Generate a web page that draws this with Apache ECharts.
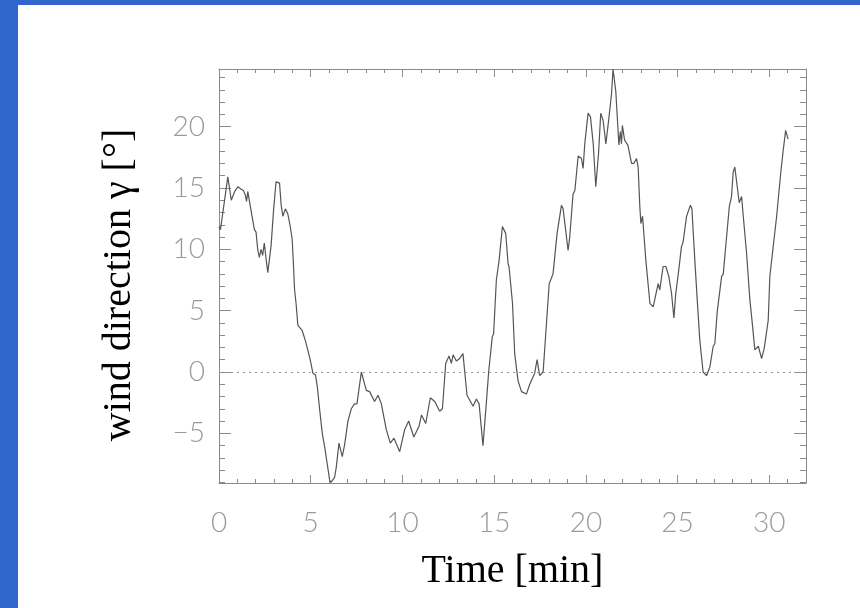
<!DOCTYPE html>
<html>
<head>
<meta charset="utf-8">
<title>wind direction</title>
<script src="https://cdn.jsdelivr.net/npm/echarts@6/dist/echarts.min.js"></script>
<style>
  html, body { margin: 0; padding: 0; }
  body { width: 860px; height: 608px; background: #3167cc; position: relative; overflow: hidden; }
  .paper { position: absolute; left: 18px; top: 5px; right: 0; bottom: 0; background: #fff; }
  #chart { position: absolute; left: 0; top: 0; width: 860px; height: 608px; }
</style>
</head>
<body>
<div class="paper"></div>
<div id="chart"></div>
<script>
// time in minutes, wind direction in degrees
const timeMin = [
  0.00, 0.08, 0.15, 0.35, 0.48, 0.67, 0.85, 1.03, 1.21, 1.33, 1.44, 1.50, 1.57, 1.66, 1.80, 1.93,
  2.02, 2.11, 2.20, 2.29, 2.38, 2.47, 2.56, 2.66, 2.84, 2.98, 3.11, 3.20, 3.30, 3.39, 3.48, 3.62,
  3.75, 3.88, 3.99, 4.06, 4.12, 4.20, 4.30, 4.53, 4.70, 4.84, 4.97, 5.12, 5.26, 5.36, 5.49, 5.63,
  5.76, 5.89, 6.03, 6.10, 6.17, 6.30, 6.39, 6.54, 6.72, 6.85, 7.03, 7.21, 7.39, 7.52, 7.76, 7.85,
  8.03, 8.21, 8.30, 8.48, 8.67, 8.85, 9.12, 9.34, 9.54, 9.85, 10.12, 10.34, 10.62, 10.91, 11.04, 11.27,
  11.52, 11.76, 12.03, 12.18, 12.36, 12.54, 12.67, 12.76, 12.94, 13.12, 13.30, 13.52, 13.67, 13.85, 14.03, 14.18,
  14.39, 14.57, 14.70, 14.90, 14.97, 15.12, 15.27, 15.45, 15.52, 15.63, 15.76, 15.81, 16.00, 16.12, 16.30, 16.49,
  16.76, 16.94, 17.03, 17.21, 17.34, 17.48, 17.67, 18.00, 18.21, 18.43, 18.67, 18.76, 19.03, 19.12, 19.30, 19.40,
  19.58, 19.76, 19.85, 19.94, 20.12, 20.25, 20.40, 20.54, 20.69, 20.81, 20.94, 21.09, 21.27, 21.40, 21.48, 21.63,
  21.70, 21.80, 21.88, 21.94, 21.99, 22.11, 22.29, 22.49, 22.61, 22.76, 22.85, 22.94, 23.00, 23.09, 23.27, 23.49,
  23.67, 23.76, 23.94, 24.03, 24.21, 24.36, 24.52, 24.67, 24.80, 24.90, 25.03, 25.12, 25.21, 25.30, 25.49, 25.70,
  25.78, 25.94, 26.07, 26.21, 26.39, 26.58, 26.76, 26.94, 27.03, 27.16, 27.40, 27.49, 27.67, 27.82, 27.94, 28.03,
  28.12, 28.21, 28.36, 28.49, 28.58, 28.76, 28.94, 29.09, 29.21, 29.40, 29.58, 29.72, 29.81, 29.94, 30.03, 30.21,
  30.40, 30.62, 30.76, 30.89, 30.98, 31.03
]
const windDir = [
  11.85, 11.6, 11.7, 14.5, 15.9, 14.0, 14.7, 15.1, 14.9, 14.8, 14.4, 13.9, 14.7, 14.7, 12.7, 11.6,
  11.4, 10.0, 9.35, 10.0, 9.5, 10.5, 9.3, 8.1, 10.3, 13.3, 15.5, 15.6, 15.4, 13.6, 12.7, 13.3,
  12.9, 11.9, 10.8, 8.7, 6.7, 5.6, 3.8, 3.4, 2.6, 1.8, 1.0, -0.1, -0.25, -1.2, -3.1, -5.0,
  -6.1, -7.4, -8.8, -9.0, -8.9, -8.6, -7.8, -5.8, -6.9, -5.9, -4.0, -3.0, -2.6, -2.6, 0.0, -0.1,
  -1.5, -1.6, -1.5, -2.4, -1.9, -2.6, -4.7, -5.8, -5.4, -6.5, -4.7, -4.0, -5.3, -4.4, -3.5, -4.2,
  -2.1, -2.4, -3.2, -3.0, 0.7, 1.3, 0.7, 1.4, 0.9, 1.1, 1.5, -1.9, -2.3, -2.8, -2.2, -2.6,
  -6.0, -2.6, 0.0, 2.9, 3.1, 7.5, 9.1, 11.85, 12.0, 11.3, 8.8, 8.6, 5.6, 1.5, -0.7, -1.6,
  -1.8, -1.0, -1.0, -0.1, 1.0, -0.3, 0.0, 7.2, 8.0, 11.3, 13.6, 13.3, 9.9, 11.0, 14.5, 14.8,
  17.6, 17.4, 16.6, 18.6, 21.1, 20.8, 18.6, 15.1, 17.8, 21.1, 20.5, 18.6, 20.9, 22.7, 24.7, 22.9,
  21.1, 18.5, 19.6, 18.6, 20.1, 18.9, 18.5, 17.0, 17.0, 17.4, 16.7, 13.5, 12.1, 12.7, 9.1, 5.6,
  5.3, 5.4, 7.2, 6.7, 8.6, 8.6, 7.8, 6.4, 4.4, 6.4, 7.9, 7.8, 10.2, 10.6, 12.7, 13.6,
  13.3, 9.1, 5.9, 2.6, 0.0, -0.3, 0.4, 2.1, 2.3, 4.9, 7.8, 8.0, 11.0, 13.5, 14.3, 16.3,
  16.7, 16.6, 13.8, 14.3, 12.7, 9.7, 5.9, 3.7, 1.8, 2.1, 1.1, 1.9, 1.9, 4.2, 7.8, 10.2,
  12.7, 16.2, 18.1, 19.7, 19.2, 19.0
]

const xMajorTicks = [0, 5, 10, 15, 20, 25, 30]
const xMinorTicks = [0, 1, 2, 3, 4, 5, 6, 7, 8, 9, 10, 11, 12, 13, 14, 15, 16,
  17, 18, 19, 20, 21, 22, 23, 24, 25, 26, 27, 28, 29, 30, 31, 32]
const yMajorTicks = [-5, 0, 5, 10, 15, 20]
const yMinorTicks = [-9, -8, -7, -6, -5, -4, -3, -2, -1, 0, 1, 2, 3, 4, 5, 6, 7,
  8, 9, 10, 11, 12, 13, 14, 15, 16, 17, 18, 19, 20, 21, 22, 23, 24]

const xRange = [0, 32]
const yRange = [-9.05, 24.7]

const frameColor = '#8a8a8a'
const labelFont = {
  color: '#9a9a9a',
  fontSize: 28,
  fontFamily: 'Lato, Roboto, sans-serif',
  fontWeight: 300
}
const titleFont = {
  color: '#000',
  fontSize: 40,
  fontFamily: '"Liberation Serif", "Times New Roman", serif'
}

// one axis of the frame: line + ticks at given values, optional labels
const makeAxis = (range, position, ticks, tickLen, opts = {}) => ({
  type: 'value',
  position,
  min: range[0],
  max: range[1],
  splitLine: { show: false },
  axisLine: {
    show: !!opts.line,
    onZero: false,
    lineStyle: { color: frameColor, width: 1 }
  },
  axisTick: {
    show: true,
    inside: true,
    length: tickLen,
    customValues: ticks,
    lineStyle: { color: frameColor, width: 1 }
  },
  axisLabel: opts.labels
    ? {
        show: true,
        customValues: opts.labels,
        margin: opts.margin,
        formatter: (v) => String(v).replace('-', '\u2212'),
        ...labelFont
      }
    : { show: false },
  ...(opts.name || {})
})

const chart = echarts.init(document.getElementById('chart'))

chart.setOption({
  backgroundColor: 'transparent',
  animation: false,
  grid: { left: 219, right: 54, top: 69, bottom: 125, containLabel: false },
  xAxis: [
    makeAxis(xRange, 'bottom', xMajorTicks, 8, {
      line: true,
      labels: xMajorTicks,
      margin: 26,
      name: {
        name: 'Time [min]',
        nameLocation: 'middle',
        nameGap: 68,
        nameTextStyle: titleFont
      }
    }),
    makeAxis(xRange, 'top', xMajorTicks, 8, { line: true }),
    makeAxis(xRange, 'bottom', xMinorTicks, 4),
    makeAxis(xRange, 'top', xMinorTicks, 4)
  ],
  yAxis: [
    makeAxis(yRange, 'left', yMajorTicks, 12, {
      line: true,
      labels: yMajorTicks,
      margin: 14,
      name: {
        name: 'wind direction \u03b3 [\u00b0]',
        nameLocation: 'middle',
        nameGap: 80,
        nameTextStyle: { ...titleFont, padding: [0, 18, 0, 0] }
      }
    }),
    makeAxis(yRange, 'right', yMajorTicks, 12, { line: true }),
    makeAxis(yRange, 'left', yMinorTicks, 6),
    makeAxis(yRange, 'right', yMinorTicks, 6)
  ],
  series: [
    {
      type: 'line',
      xAxisIndex: 0,
      yAxisIndex: 0,
      data: timeMin.map((t, i) => [t, windDir[i]]),
      showSymbol: false,
      smooth: false,
      lineStyle: { color: '#555', width: 1.2 },
      markLine: {
        silent: true,
        symbol: 'none',
        label: { show: false },
        lineStyle: { color: '#999', width: 1, type: [2, 4] },
        data: [{ yAxis: 0 }]
      }
    }
  ]
})
</script>
</body>
</html>
